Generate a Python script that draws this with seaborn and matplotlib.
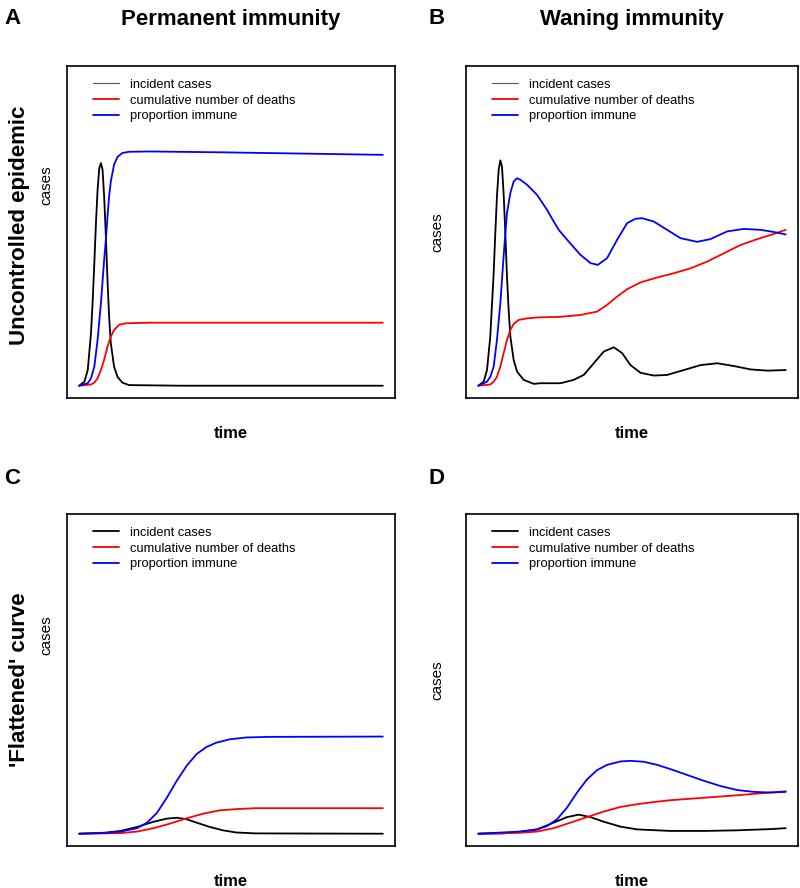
import matplotlib
matplotlib.use('Agg')
import matplotlib.pyplot as plt
import seaborn as sns

# ----------- DATA (time 0-300, y on a 0-100 scale) -----------

series_labels = ['incident cases', 'cumulative number of deaths', 'proportion immune']
series_colors = ['#000000', '#ff0000', '#0000ff']
col_titles = ['Permanent immunity', 'Waning immunity']
row_titles = ['Uncontrolled epidemic', "'Flattened' curve"]
panel_letters = ['A', 'B', 'C', 'D']

# A: uncontrolled, permanent immunity
a_inc_t = [0, 5.2, 8.5, 11.7, 13.4, 15.0, 16.6, 18.2, 19.9, 21.5, 23.1, 24.7, 26.4, 28.0, 29.6,
           31.3, 34.5, 37.8, 42.7, 49.2, 100, 200, 300]
a_inc_y = [0, 1.3, 5.1, 17.1, 27.9, 39.9, 52.9, 63.7, 70.8, 72.4, 70.3, 61.6, 48.5, 34.4, 22.5,
           13.8, 6.2, 2.9, 1.0, 0.2, 0, 0, 0]
a_dth_t = [0, 11.7, 15.0, 18.2, 21.5, 24.7, 28.0, 31.3, 34.5, 39.4, 45.9, 70.4, 300]
a_dth_y = [0, 0.4, 1.0, 2.4, 5.1, 8.4, 12.7, 16.0, 18.1, 19.8, 20.3, 20.5, 20.5]
a_imm_t = [0, 8.5, 11.7, 15.0, 18.2, 21.5, 24.7, 26.4, 28.0, 29.6, 31.3, 34.5, 37.8, 42.7, 49.2,
           70.4, 145, 300]
a_imm_y = [0, 0.8, 2.4, 6.2, 14.9, 26.8, 40.9, 47.5, 55.0, 61.6, 66.5, 71.9, 74.4, 75.7, 76.1,
           76.2, 75.9, 75.1]

# B: uncontrolled, waning immunity
b_inc_t = [0, 5.2, 8.5, 11.7, 15.0, 16.6, 18.2, 19.9, 21.5, 23.1, 24.7, 26.4, 28.0, 29.6, 31.3,
           34.5, 37.8, 44.3, 54.1, 60.6, 80.1, 93.1, 102.9, 112.7, 122.4, 132.2, 140.4, 148.5,
           158.3, 171.3, 184.3, 200.6, 216.9, 233.2, 249.4, 265.7, 282.1, 300]
b_inc_y = [0, 1.3, 5.1, 16.0, 36.6, 49.6, 61.6, 70.3, 73.3, 71.3, 62.7, 49.6, 35.5, 24.7, 16.0,
           8.4, 4.6, 1.9, 0.6, 0.8, 0.8, 1.9, 3.5, 7.3, 11.1, 12.5, 10.6, 6.7,
           4.2, 3.3, 3.5, 5.1, 6.7, 7.3, 6.4, 5.3, 4.9, 5.1]
b_dth_t = [0, 11.7, 15.0, 18.2, 21.5, 24.7, 28.0, 31.3, 34.5, 39.4, 47.5, 57.3, 80.1, 99.6,
           115.9, 125.7, 135.5, 145.3, 158.3, 174.6, 190.9, 207.2, 223.5, 239.8, 256.1, 272.4,
           288.6, 300]
b_dth_y = [0, 0.4, 1.3, 2.9, 6.2, 10.5, 14.9, 18.1, 20.1, 21.4, 21.9, 22.2, 22.4, 23.0,
           24.1, 26.3, 29.0, 31.4, 33.6, 35.2, 36.6, 38.2, 40.4, 43.1, 45.8, 47.7,
           49.4, 50.7]
b_imm_t = [0, 8.5, 11.7, 15.0, 18.2, 21.5, 24.7, 26.4, 28.0, 31.3, 34.5, 37.8, 41.0, 47.5, 57.3,
           67.1, 73.6, 78.5, 86.6, 99.6, 109.4, 116.6, 125.7, 135.5, 145.3, 153.4, 159.9, 171.3,
           184.3, 197.3, 213.6, 226.6, 242.9, 259.2, 275.5, 288.5, 300]
b_imm_y = [0, 1.3, 2.9, 6.2, 14.9, 26.8, 42.0, 49.6, 56.2, 62.7, 66.4, 67.5, 67.0, 65.4, 62.1,
           57.2, 53.4, 50.7, 47.5, 42.6, 39.9, 39.3, 41.5, 47.5, 52.9, 54.3, 54.5, 53.4,
           50.7, 48.0, 46.8, 47.7, 50.2, 51.0, 50.7, 50.0, 49.2]

# C: flattened, permanent immunity
c_inc_t = [0, 24.7, 41.0, 57.3, 73.6, 86.6, 96.4, 106.2, 116.0, 129.0, 142.0, 155.0, 174.5, 300]
c_inc_y = [0, 0.3, 0.9, 2.2, 3.9, 4.9, 5.2, 4.7, 3.6, 2.2, 1.1, 0.4, 0.1, 0]
c_dth_t = [0, 41.0, 57.3, 73.6, 89.9, 106.2, 122.4, 138.7, 155.0, 174.5, 300]
c_dth_y = [0, 0.2, 0.7, 1.8, 3.3, 5.0, 6.5, 7.6, 8.0, 8.3, 8.3]
c_imm_t = [0, 24.7, 41.0, 57.3, 67.1, 76.9, 86.6, 96.4, 106.2, 116.0, 125.7, 135.5, 148.5, 164.8,
           187.6, 300]
c_imm_y = [0, 0.2, 0.7, 1.8, 3.6, 6.8, 11.7, 17.2, 22.1, 25.9, 28.2, 29.6, 30.7, 31.3,
           31.5, 31.6]

# D: flattened, waning immunity
d_inc_t = [0, 24.7, 41.0, 57.3, 73.6, 86.6, 98.0, 109.4, 122.4, 138.7, 155.0, 187.6, 220.2,
           252.7, 285.3, 300]
d_inc_y = [0, 0.1, 0.6, 1.4, 3.6, 5.4, 6.2, 5.4, 3.9, 2.3, 1.4, 0.9, 0.9, 1.1, 1.5, 1.8]
d_dth_t = [0, 41.0, 57.3, 73.6, 89.9, 106.2, 122.4, 138.7, 155.0, 171.3, 187.6, 220.2, 252.7,
           285.3, 300]
d_dth_y = [0, 0.3, 0.7, 1.8, 3.6, 5.4, 7.2, 8.7, 9.6, 10.3, 10.9, 11.7, 12.5, 13.4, 13.8]
d_imm_t = [0, 41.0, 57.3, 67.1, 76.9, 86.6, 96.4, 106.2, 116.0, 125.7, 138.7, 148.5, 161.5,
           174.5, 187.6, 203.9, 220.2, 236.4, 252.7, 269.0, 285.3, 300]
d_imm_y = [0, 0.7, 1.4, 2.5, 4.7, 8.5, 13.4, 17.7, 20.7, 22.4, 23.5, 23.7, 23.4,
           22.4, 21.0, 19.1, 17.2, 15.5, 14.2, 13.6, 13.4, 13.6]

# ----------- STYLE -----------

sns.set_style('white')
plt.rcParams['font.family'] = ['Liberation Sans', 'DejaVu Sans']
plt.rcParams['text.color'] = 'black'

W, H = 800, 888
fig = plt.figure(figsize=(W / 100, H / 100), dpi=100)


def rect(left, top, right, bottom):
    # pixel box -> figure fraction
    return [left / W, 1 - bottom / H, (right - left) / W, (bottom - top) / H]


def ftext(x, y, s, **kw):
    fig.text(x / W, 1 - y / H, s, **kw)


def draw_panel(ax, series, thin_key):
    for (t, y), lab, col in zip(series, series_labels, series_colors):
        sns.lineplot(x=t, y=y, ax=ax, color=col, lw=1.3, label=lab)
    ax.set_xlim(-12, 312)
    ax.set_ylim(-4, 104)
    ax.set_xticks([])
    ax.set_yticks([])
    ax.set_xlabel('')
    ax.set_ylabel('')
    for sp in ax.spines.values():
        sp.set_visible(True)
        sp.set_color('black')
        sp.set_linewidth(1.2)
    leg = ax.legend(loc='upper left', bbox_to_anchor=(0.079, 0.962), frameon=False,
                    fontsize=9.3, handlelength=2.0, handletextpad=0.85, labelspacing=0.3,
                    borderpad=0, borderaxespad=0)
    if thin_key:
        # top row: the 'incident cases' key is a thin grey line
        leg.get_lines()[0].set_color('#555555')
        leg.get_lines()[0].set_linewidth(0.8)


boxes = [(67, 66, 395, 398), (466, 66, 798, 398),
         (67, 514, 395, 846), (466, 514, 798, 846)]
panels = [
    [(a_inc_t, a_inc_y), (a_dth_t, a_dth_y), (a_imm_t, a_imm_y)],
    [(b_inc_t, b_inc_y), (b_dth_t, b_dth_y), (b_imm_t, b_imm_y)],
    [(c_inc_t, c_inc_y), (c_dth_t, c_dth_y), (c_imm_t, c_imm_y)],
    [(d_inc_t, d_inc_y), (d_dth_t, d_dth_y), (d_imm_t, d_imm_y)],
]

for i, (box, series) in enumerate(zip(boxes, panels)):
    ax = fig.add_axes(rect(*box))
    draw_panel(ax, series, thin_key=(i < 2))

# ----------- TEXTS -----------

# panel letters
for (x, y), letter in zip([(4, 19), (428, 19), (4, 478), (428, 478)], panel_letters):
    ftext(x, y, letter, fontsize=16, fontweight='bold', ha='left', va='center')

# column titles
ftext(231, 20, col_titles[0], fontsize=16, fontweight='bold', ha='center', va='center')
ftext(632, 20, col_titles[1], fontsize=16, fontweight='bold', ha='center', va='center')

# row titles
ftext(20, 225, row_titles[0], fontsize=16, fontweight='bold',
      rotation=90, ha='center', va='center')
ftext(20, 680, row_titles[1], fontsize=16, fontweight='bold',
      rotation=90, ha='center', va='center')

# y labels
for x, y in [(46, 185), (437, 232), (46, 635), (437, 680)]:
    ftext(x, y, 'cases', fontsize=11, rotation=90, ha='center', va='center')

# x labels
for x, y in [(231, 433), (632, 433), (231, 881), (632, 881)]:
    ftext(x, y, 'time', fontsize=12, fontweight='bold', ha='center', va='center')

fig.savefig('out.png', dpi=100)
